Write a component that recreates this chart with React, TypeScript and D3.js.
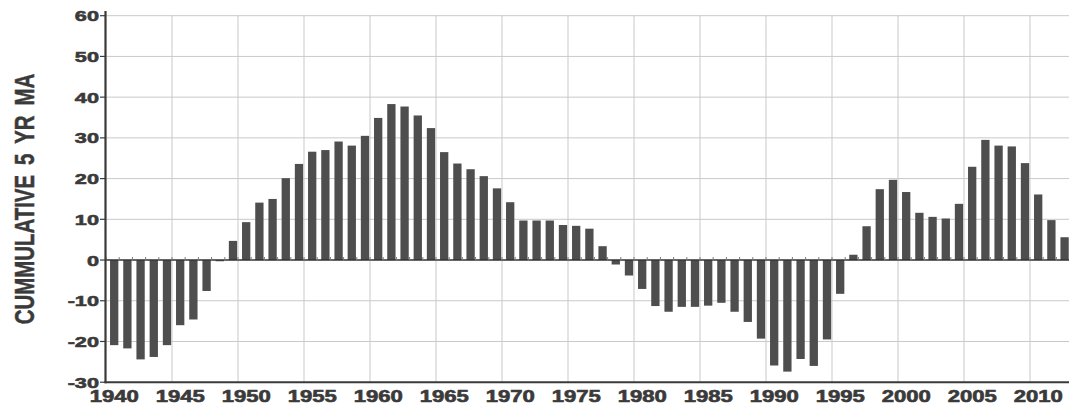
import { useRef, useEffect } from "react";
import * as d3 from "d3";

// one bar per year, 1940 .. 2012
const firstYear = 1940;
const values = [
  -20.9, -21.7, -24.4, -23.8, -20.9, -16.0, -14.6, -7.6, -0.3, 4.7,
  9.3, 14.1, 15.0, 20.1, 23.6, 26.6, 27.0, 29.1, 28.1, 30.5,
  34.9, 38.3, 37.7, 35.5, 32.4, 26.5, 23.7, 22.3, 20.6, 17.6,
  14.2, 9.7, 9.7, 9.7, 8.6, 8.4, 7.7, 3.4, -1.1, -3.8,
  -7.1, -11.3, -12.7, -11.5, -11.5, -11.2, -10.5, -12.7, -15.2, -19.3,
  -25.9, -27.4, -24.3, -26.0, -19.5, -8.3, 1.3, 8.3, 17.4, 19.7,
  16.7, 11.6, 10.6, 10.2, 13.8, 22.9, 29.5, 28.1, 27.9, 23.8,
  16.1, 9.8, 5.6,
];
const years = values.map((_, i) => firstYear + i);
const xTicks = [1940, 1945, 1950, 1955, 1960, 1965, 1970, 1975, 1980, 1985, 1990, 1995, 2000, 2005, 2010];
const yTicks = [-30, -20, -10, 0, 10, 20, 30, 40, 50, 60];
const yTitle = "CUMMULATIVE 5 YR MA";

const width = 1069;
const height = 407;

export default function App() {
  const svgRef = useRef<SVGSVGElement>(null);

  useEffect(() => {
    if (!svgRef.current) return;
    const svg = d3.select(svgRef.current);
    svg.selectAll("*").remove();

    const x = d3.scaleLinear().domain([1940, 2013]).range([106, 106 + 73 * 13.2]);
    const y = d3.scaleLinear().domain([-30, 60]).range([382.2, 15.7]);
    const barW = 8.3;
    const shift = 0.62; // bars sit right of the year grid line
    const font = "'Liberation Sans', Arial, sans-serif";
    const ink = "#3a3a3a";

    // grid
    svg.append("g")
      .selectAll("line")
      .data(yTicks.filter((d) => d !== -30 && d !== 0))
      .join("line")
      .attr("x1", 106)
      .attr("x2", width)
      .attr("y1", (d) => y(d))
      .attr("y2", (d) => y(d))
      .attr("stroke", "#c9c9c9")
      .attr("stroke-width", 1);

    svg.append("g")
      .selectAll("line")
      .data(xTicks.filter((d) => d !== 1940))
      .join("line")
      .attr("x1", (d) => x(d))
      .attr("x2", (d) => x(d))
      .attr("y1", y(60))
      .attr("y2", y(-30))
      .attr("stroke", "#c9c9c9")
      .attr("stroke-width", 1);

    // bars
    svg.append("g")
      .selectAll("rect")
      .data(years)
      .join("rect")
      .attr("x", (d) => x(d + shift) - barW / 2)
      .attr("width", barW)
      .attr("y", (_, i) => y(Math.max(0, values[i])))
      .attr("height", (_, i) => Math.abs(y(values[i]) - y(0)))
      .attr("fill", "#4e4e4e");

    // zero line with small year ticks
    svg.append("line")
      .attr("x1", 106)
      .attr("x2", width)
      .attr("y1", y(0))
      .attr("y2", y(0))
      .attr("stroke", "#333")
      .attr("stroke-width", 1.6);

    svg.append("g")
      .selectAll("line")
      .data(years)
      .join("line")
      .attr("x1", (d) => x(d))
      .attr("x2", (d) => x(d))
      .attr("y1", y(0) - 3)
      .attr("y2", y(0) + 1)
      .attr("stroke", "#777")
      .attr("stroke-width", 1);

    // axes
    svg.append("line")
      .attr("x1", 105.5)
      .attr("x2", 105.5)
      .attr("y1", 11)
      .attr("y2", y(-30) + 1)
      .attr("stroke", ink)
      .attr("stroke-width", 2.2);

    svg.append("line")
      .attr("x1", 104.5)
      .attr("x2", width)
      .attr("y1", y(-30))
      .attr("y2", y(-30))
      .attr("stroke", ink)
      .attr("stroke-width", 2);

    svg.append("g")
      .selectAll("line")
      .data(yTicks)
      .join("line")
      .attr("x1", 100)
      .attr("x2", 105)
      .attr("y1", (d) => y(d))
      .attr("y2", (d) => y(d))
      .attr("stroke", ink)
      .attr("stroke-width", 1.2);

    // tick labels (heavy face: bold plus a thin outline)
    svg.append("g")
      .selectAll("text")
      .data(yTicks)
      .join("text")
      .attr("transform", (d) => `translate(99,${y(d) + 5.5}) scale(1.4,1)`)
      .attr("text-anchor", "end")
      .attr("font-family", font)
      .attr("font-weight", "bold")
      .attr("font-size", 15.5)
      .attr("fill", ink)
      .attr("stroke", ink)
      .attr("stroke-width", 0.6)
      .text((d) => d);

    svg.append("g")
      .selectAll("text")
      .data(xTicks)
      .join("text")
      .attr("transform", (d) => `translate(${x(d + shift)},402) scale(1.38,1)`)
      .attr("text-anchor", "middle")
      .attr("font-family", font)
      .attr("font-weight", "bold")
      .attr("font-size", 16)
      .attr("fill", ink)
      .attr("stroke", ink)
      .attr("stroke-width", 0.6)
      .text((d) => d);

    // axis title, condensed along its length
    svg.append("text")
      .attr("transform", "translate(34,199) rotate(-90) scale(0.73,1)")
      .attr("text-anchor", "middle")
      .attr("font-family", font)
      .attr("font-weight", "bold")
      .attr("font-size", 28)
      .attr("fill", ink)
      .attr("stroke", ink)
      .attr("stroke-width", 0.5)
      .attr("word-spacing", 6)
      .text(yTitle);
  }, []);

  return (
    <div style={{ position: "absolute", left: 0, top: 0, background: "#fff" }}>
      <svg ref={svgRef} width={width} height={height} style={{ display: "block" }} />
    </div>
  );
}
